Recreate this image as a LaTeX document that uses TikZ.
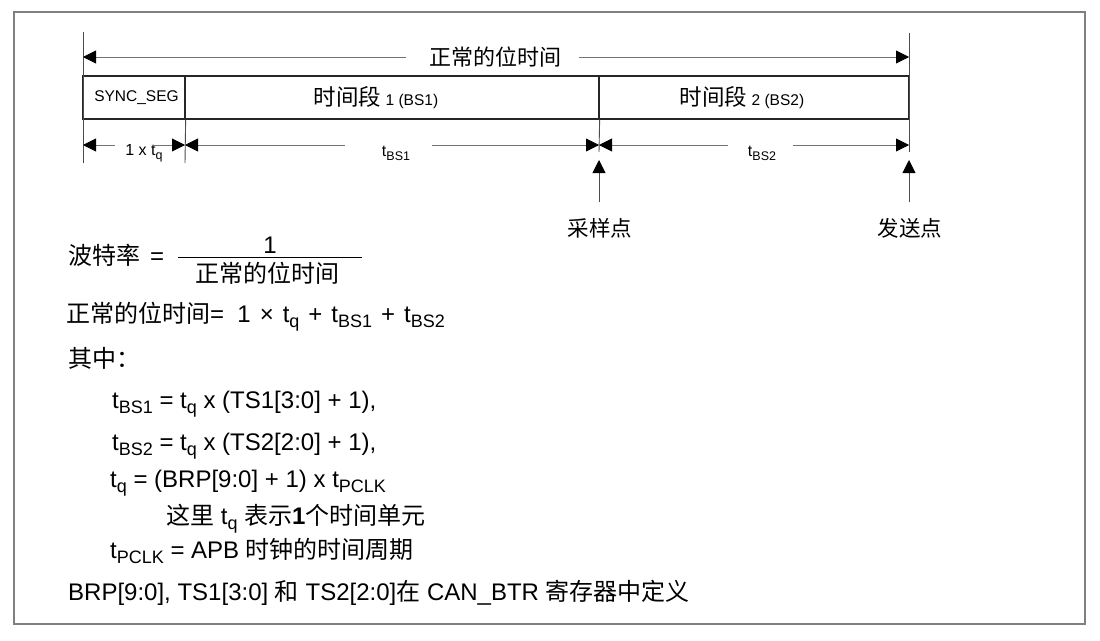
\documentclass[tikz,border=0pt]{standalone}
\usepackage{fontspec}
\setmainfont{Liberation Sans}
\newfontfamily\cjk{Noto Sans CJK SC}
\usetikzlibrary{arrows.meta}
\newcommand\zh[1]{{\cjk #1}}
\newcommand\subA[1]{\raisebox{-5.5pt}{\fontsize{18}{18}\selectfont #1}}
\newcommand\subB[1]{\raisebox{-4pt}{\fontsize{12.5}{12.5}\selectfont #1}}
\newcommand\wsp{\hspace{9pt}}
\tikzset{
  frame/.style={draw=black!50, line width=1.2pt},
  segbox/.style={draw=black!85, line width=1.3pt, minimum height=43pt, inner sep=0pt, font=\fontsize{15.5}{18}\selectfont},
  vline/.style={draw=black!70, line width=0.9pt},
  dimline/.style={draw=black!55, line width=0.9pt},
  tri/.style={-{Triangle[length=13pt,width=13pt,color=black]}},
  dimlab/.style={inner sep=0pt, font=\fontsize{16}{19}\selectfont},
  toplab/.style={inner sep=0pt, font=\fontsize{22}{26}\selectfont\cjk},
  ptlab/.style={inner sep=0pt, font=\fontsize{21.5}{26}\selectfont\cjk},
  txt/.style={anchor=base west, inner sep=0pt, font=\fontsize{24}{28}\selectfont},
  fracbar/.style={draw=black, line width=1pt}
}
\begin{document}
\begin{tikzpicture}[x=1pt,y=-1pt]
\useasboundingbox (0,0) rectangle (1100,640);
\draw[frame] (14,12) rectangle (1085,624);

% boxes
\node[segbox, minimum width=102pt] (sync) at (134,97.5) {\kern5pt SYNC\_SEG};
\node[segbox, minimum width=414pt] (bs1) at (392,97.5) {\zh{\fontsize{22.5}{26}\selectfont 时间段} 1 (BS1)\kern32pt};
\node[segbox, minimum width=310pt] (bs2) at (754,97.5) {\zh{\fontsize{22.5}{26}\selectfont 时间段} 2 (BS2)\kern24pt};

% vertical reference lines
\coordinate (Ltop) at (83,32);
\coordinate (Lbot) at (83,163);
\coordinate (Rtop) at (909,33);
\coordinate (Rbot) at (909,152);
\coordinate (Sbot) at (185,163);
\coordinate (Bbot) at (599,152);
\draw[vline] (Ltop) -- (Lbot);
\draw[vline] (Rtop) -- (Rbot);
\draw[vline] (sync.south east) -- (Sbot);
\draw[vline] (bs1.south east) -- (Bbot);

% top dimension
\coordinate (tL) at (83,57);
\coordinate (tR) at (909,57);
\node[toplab] (tlab) at (495,57) {正常的位时间};
\draw[dimline, tri] ([xshift=-23pt]tlab.west) -- (tL);
\draw[dimline, tri] ([xshift=18pt]tlab.east) -- (tR);

% lower dimensions
\coordinate (d0) at (83,145);
\coordinate (d1) at (185,145);
\coordinate (d2) at (599,145);
\coordinate (d3) at (909,145);
\node[dimlab] (ltq) at (144,153) {1 x t\subB{q}};
\node[dimlab] (lbs1) at (396,153) {t\subB{BS1}};
\node[dimlab] (lbs2) at (762,153) {t\subB{BS2}};
\draw[dimline, tri] (115,145) -- (d0);
\draw[dimline, tri] (152,145) -- (d1);
\draw[dimline, tri] (345,145) -- (d1);
\draw[dimline, tri] (432,145) -- (d2);
\draw[dimline, tri] (728,145) -- (d2);
\draw[dimline, tri] (793,145) -- (d3);

% sample / transmit points
\node[ptlab] (samp) at (600,228) {采样点};
\node[ptlab] (send) at (910,228) {发送点};
\coordinate (sampTip) at (599,160);
\coordinate (sendTip) at (909,160);
\draw[vline, tri] (599,202) -- (sampTip);
\draw[vline, tri] (909,202) -- (sendTip);

% formulas
\node[txt] (bt) at (68,264) {\zh{波特率}};
\node[txt] (eq1) at (150,264) {=};
\node[txt, anchor=base] (num) at (270,253) {1};
\draw[fracbar] (178,257) -- (362,257);
\node[txt, anchor=base] (den) at (267,282) {\zh{正常的位时间}};

\node[txt] (nbt) at (66,322) {\zh{正常的位时间}=\hspace{0.55em}1\wsp×\wsp t\subA{q}\wsp+\wsp t\subA{BS1}\wsp+\wsp t\subA{BS2}};
\node[txt] (qz) at (68,367) {\zh{其中：}};
\node[txt] (l1) at (112,408) {t\subA{BS1} = t\subA{q} x (TS1[3:0] + 1),};
\node[txt] (l2) at (112,450) {t\subA{BS2} = t\subA{q} x (TS2[2:0] + 1),};
\node[txt] (l3) at (110,487) {t\subA{q} = (BRP[9:0] + 1) x t\subA{PCLK}};
\node[txt] (l4) at (166,524) {\zh{这里} t\subA{q} \zh{表示}\textbf{1}\zh{个时间单元}};
\node[txt] (l5) at (110,558) {t\subA{PCLK} = APB \zh{时钟的时间周期}};
\node[txt] (l6) at (68,600) {BRP[9:0], TS1[3:0] \zh{和} TS2[2:0]\zh{在} CAN\_BTR \zh{寄存器中定义}};
\end{tikzpicture}
\end{document}
